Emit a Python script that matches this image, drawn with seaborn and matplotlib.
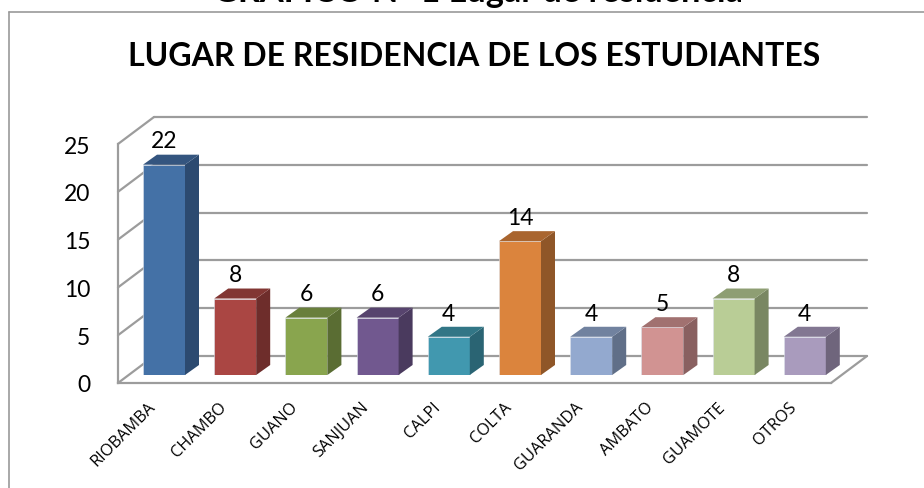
import matplotlib
matplotlib.use("Agg")
import matplotlib.pyplot as plt
from matplotlib.patches import Polygon
from matplotlib.lines import Line2D
from matplotlib.transforms import ScaledTranslation
import seaborn as sns

categories = ["RIOBAMBA", "CHAMBO", "GUANO", "SANJUAN", "CALPI", "COLTA",
              "GUARANDA", "AMBATO", "GUAMOTE", "OTROS"]
values = [22, 8, 6, 6, 4, 14, 4, 5, 8, 4]
y_ticks = [0, 5, 10, 15, 20, 25]
front_colors = ["#4471A6", "#AA4643", "#89A54E", "#71588F", "#4198AF",
                "#DB843D", "#93A9CF", "#D19392", "#B9CD96", "#A99BBD"]
side_colors = ["#2C4A70", "#6E2D2B", "#5A6D33", "#4A3A5E", "#2A6473",
               "#8F5628", "#606F88", "#896060", "#798762", "#6F657C"]
top_colors = ["#34557F", "#823633", "#697F3C", "#57446E", "#327686",
              "#A9652F", "#71829F", "#A17170", "#8E9E73", "#827792"]
chart_title = "LUGAR DE RESIDENCIA DE LOS ESTUDIANTES"
clipped_title = "GRÁFICO Nº 1 Lugar de residencia"

W, H = 924, 489
sns.set_theme(style="white")
plt.rcParams["font.family"] = ["Lato", "DejaVu Sans"]
GRID = "#9C9C9C"
fig = plt.figure(figsize=(W / 100, H / 100), dpi=100, facecolor="white")


def rect(x0, x1, ytop, ybot):
    return [x0 / W, 1 - ybot / H, (x1 - x0) / W, (ybot - ytop) / H]


# pixel scale: one category = 71.2 px, one unit = 9.56 px
cat_px, unit_px = 71.2, 9.56
xlim = ((118 - 164) / cat_px, (831 - 164) / cat_px)

# floor and walls
wall = fig.add_axes(rect(118, 831, 145, 384))
wall.set_xlim(*xlim)
wall.set_ylim(0, 25)
wall.patch.set_alpha(0)
sns.despine(ax=wall, top=True, right=True)
for s in ("left", "bottom"):
    wall.spines[s].set_color(GRID)
    wall.spines[s].set_linewidth(1.6)
wall.set_xticks([])
wall.set_yticks(y_ticks)
wall.tick_params(axis="y", length=0, pad=20, labelsize=16.5, labelcolor="black")
dx, dy = 36 / cat_px, 27 / unit_px
for v in y_ticks:
    wall.plot([xlim[0], xlim[0] + dx], [v, v + dy], color=GRID, lw=1.6, clip_on=False)
    wall.plot([xlim[0] + dx, xlim[1] + dx], [v + dy, v + dy], color=GRID, lw=1.6, clip_on=False)
wall.plot([xlim[1], xlim[1] + dx], [0, dy], color=GRID, lw=1.6, clip_on=False)

# bars
ax = fig.add_axes(rect(118, 831, 137, 376))
ax.patch.set_alpha(0)
sns.barplot(x=categories, y=values, hue=categories, palette=front_colors,
            saturation=1, width=42 / cat_px, legend=False, ax=ax,
            linewidth=0.4, edgecolor="#DDE3EC")
ax.set_xlim(*xlim)
ax.set_ylim(0, 25)
ax.set_yticks([])
ax.set_xlabel("")
ax.set_ylabel("")
sns.despine(ax=ax, left=True, bottom=True)
ax.set_xticks(range(len(categories)))
ax.set_xticklabels(categories, rotation=45, ha="right", rotation_mode="anchor",
                   fontsize=11.8, color="black", family=["Open Sans"])
ax.tick_params(axis="x", length=0, pad=17)
shift = ScaledTranslation(-12 / 72, 0, fig.dpi_scale_trans)
for lab in ax.get_xticklabels():
    lab.set_transform(lab.get_transform() + shift)

ddx, ddy = 14 / cat_px, 10 / unit_px
for i, container in enumerate(ax.containers):
    for bar in container:
        x0, x1 = bar.get_x(), bar.get_x() + bar.get_width()
        h = bar.get_height()
        ax.add_patch(Polygon([(x1, 0), (x1 + ddx, ddy), (x1 + ddx, h + ddy), (x1, h)],
                             closed=True, fc=side_colors[i], ec="none", clip_on=False))
        ax.add_patch(Polygon([(x0, h), (x1, h), (x1 + ddx, h + ddy), (x0 + ddx, h + ddy)],
                             closed=True, fc=top_colors[i], ec="none", clip_on=False))
    ax.bar_label(container, labels=[str(int(b.get_height())) for b in container],
                 padding=9.5, fontsize=16.5, color="black")

# chart title and frame
fig.text(474 / W, 1 - 57 / H, chart_title, ha="center", va="center",
         fontsize=23, fontweight="bold", color="black")
fig.text(478 / W, 1 - 1.5 / H, clipped_title, ha="center", va="baseline",
         fontsize=24.7, fontweight="bold", color="black")
for xs, ys in [((8.5, 924), (13, 13)), ((8.5, 8.5), (13, 489))]:
    fig.add_artist(Line2D([x / W for x in xs], [1 - y / H for y in ys],
                          color="#9A9A9A", lw=1.2))

fig.savefig("out.png", dpi=100, facecolor="white")
